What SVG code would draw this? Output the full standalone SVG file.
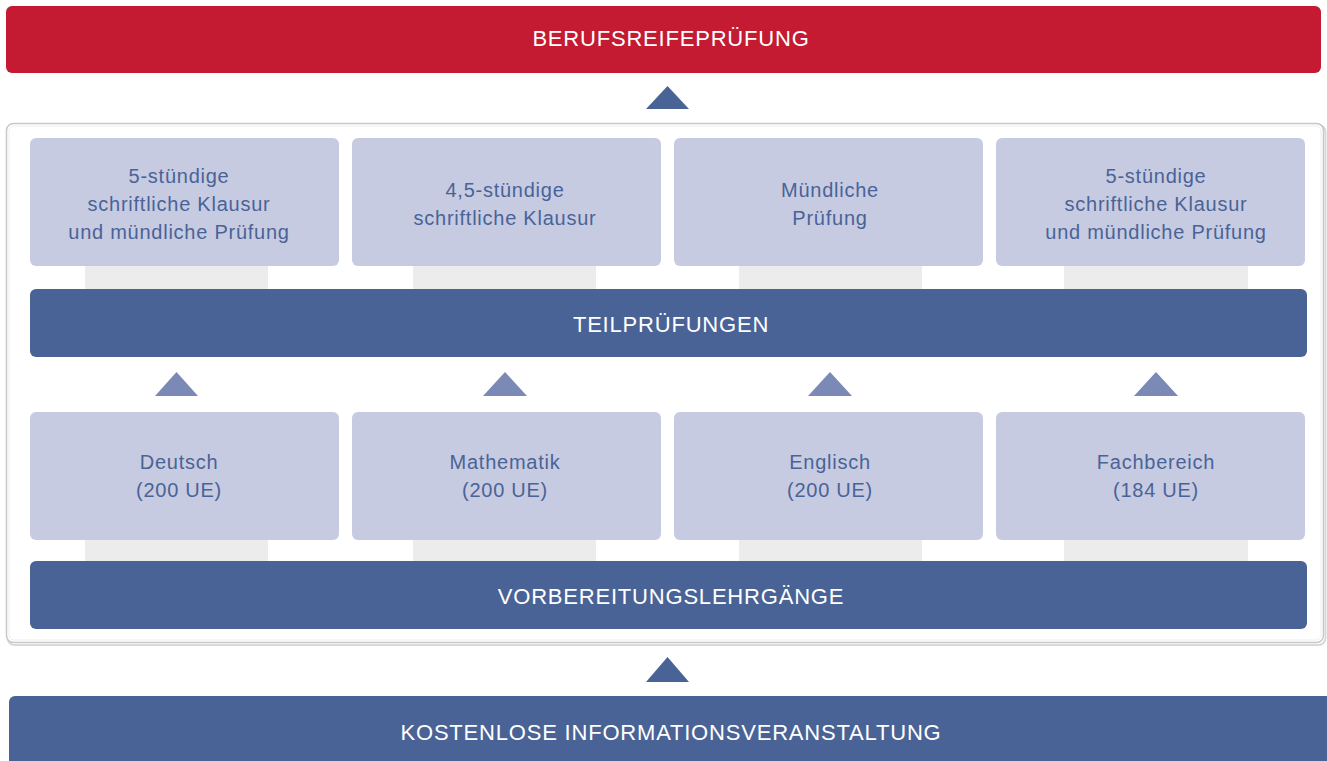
<svg xmlns="http://www.w3.org/2000/svg" width="1327" height="761" viewBox="0 0 1327 761">
<style>
.bar{fill:#4a6396}
.red{fill:#c41a32}
.box{fill:#c6cbe2}
.stub{fill:#ececec}
.tri{fill:#4a6396}
.tri2{fill:#7b89b6}
.title{font-family:"Liberation Sans",Arial,sans-serif;font-size:22px;fill:#ffffff;text-anchor:middle;letter-spacing:0.8px}
.lbl{font-family:"Liberation Sans",Arial,sans-serif;font-size:20px;fill:#4a6396;text-anchor:middle;letter-spacing:0.75px}
</style>
<rect x="0" y="0" width="1327" height="761" fill="#ffffff"/>
<g id="frame">
<rect x="7.5" y="125" width="1318" height="520" rx="7" fill="none" stroke="#d9d9d9" stroke-width="2"/>
<rect x="6.5" y="123.5" width="1317" height="519" rx="7" fill="#ffffff" stroke="#c8c8c8" stroke-width="1.5"/>
<rect x="9" y="126" width="1312" height="514" rx="5" fill="none" stroke="#eeeeee" stroke-width="1"/>
</g>
<g id="connectors">
<rect class="stub" x="85" y="265" width="183" height="25"/>
<rect class="stub" x="413" y="265" width="183" height="25"/>
<rect class="stub" x="739" y="265" width="183" height="25"/>
<rect class="stub" x="1064" y="265" width="184" height="25"/>
<rect class="stub" x="85" y="538" width="183" height="25"/>
<rect class="stub" x="413" y="538" width="183" height="25"/>
<rect class="stub" x="739" y="538" width="183" height="25"/>
<rect class="stub" x="1064" y="538" width="184" height="25"/>
<polygon class="tri" points="646,109 689,109 667.5,86"/>
<polygon class="tri" points="646,682 689,682 667.5,657"/>
<polygon class="tri2" points="155,396 198,396 176.5,372"/>
<polygon class="tri2" points="483,396 527,396 505,372"/>
<polygon class="tri2" points="808,396 852,396 830,372"/>
<polygon class="tri2" points="1134,396 1178,396 1156,372"/>
</g>
<g id="berufsreifepruefung">
<rect class="red" x="6" y="6" width="1315" height="67" rx="6"/>
<text class="title" x="671" y="46">BERUFSREIFEPRÜFUNG</text>
</g>
<g id="exam-1">
<rect class="box" x="30" y="138" width="309" height="128" rx="6"/>
<text class="lbl" x="179" y="183">5-stündige</text>
<text class="lbl" x="179" y="211">schriftliche Klausur</text>
<text class="lbl" x="179" y="239">und mündliche Prüfung</text>
</g>
<g id="exam-2">
<rect class="box" x="352" y="138" width="309" height="128" rx="6"/>
<text class="lbl" x="505" y="197">4,5-stündige</text>
<text class="lbl" x="505" y="225">schriftliche Klausur</text>
</g>
<g id="exam-3">
<rect class="box" x="674" y="138" width="309" height="128" rx="6"/>
<text class="lbl" x="830" y="197">Mündliche</text>
<text class="lbl" x="830" y="225">Prüfung</text>
</g>
<g id="exam-4">
<rect class="box" x="996" y="138" width="309" height="128" rx="6"/>
<text class="lbl" x="1156" y="183">5-stündige</text>
<text class="lbl" x="1156" y="211">schriftliche Klausur</text>
<text class="lbl" x="1156" y="239">und mündliche Prüfung</text>
</g>
<g id="teilpruefungen">
<rect class="bar" x="30" y="289" width="1277" height="68" rx="6"/>
<text class="title" x="671" y="332">TEILPRÜFUNGEN</text>
</g>
<g id="deutsch">
<rect class="box" x="30" y="412" width="309" height="128" rx="6"/>
<text class="lbl" x="179" y="469">Deutsch</text>
<text class="lbl" x="179" y="497">(200 UE)</text>
</g>
<g id="mathematik">
<rect class="box" x="352" y="412" width="309" height="128" rx="6"/>
<text class="lbl" x="505" y="469">Mathematik</text>
<text class="lbl" x="505" y="497">(200 UE)</text>
</g>
<g id="englisch">
<rect class="box" x="674" y="412" width="309" height="128" rx="6"/>
<text class="lbl" x="830" y="469">Englisch</text>
<text class="lbl" x="830" y="497">(200 UE)</text>
</g>
<g id="fachbereich">
<rect class="box" x="996" y="412" width="309" height="128" rx="6"/>
<text class="lbl" x="1156" y="469">Fachbereich</text>
<text class="lbl" x="1156" y="497">(184 UE)</text>
</g>
<g id="vorbereitungslehrgaenge">
<rect class="bar" x="30" y="561" width="1277" height="68" rx="6"/>
<text class="title" x="671" y="604">VORBEREITUNGSLEHRGÄNGE</text>
</g>
<g id="informationsveranstaltung">
<rect class="bar" x="9" y="696" width="1330" height="80" rx="6"/>
<text class="title" x="671" y="740">KOSTENLOSE INFORMATIONSVERANSTALTUNG</text>
</g>
</svg>
